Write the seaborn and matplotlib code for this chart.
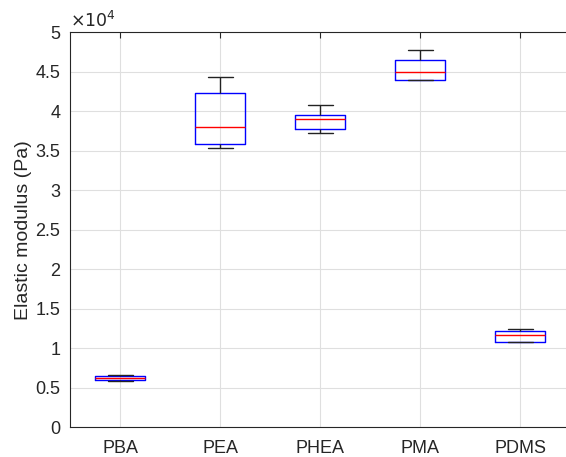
import pandas as pd
import matplotlib
matplotlib.use('Agg')
import matplotlib.pyplot as plt
import seaborn as sns

# five-number samples per polymer (Pa): min, q1, median, q3, max
materials = ['PBA', 'PEA', 'PHEA', 'PMA', 'PDMS']
pba = [5900, 5950, 6200, 6520, 6650]
pea = [35300, 35900, 38000, 42300, 44300]
phea = [37200, 37800, 39000, 39500, 40800]
pma = [43900, 44000, 45000, 46450, 47700]
pdms = [10760, 10760, 11700, 12200, 12400]

ytick_vals = [0, 5000, 10000, 15000, 20000, 25000, 30000, 35000, 40000, 45000, 50000]
ytick_labels = ['0', '0.5', '1', '1.5', '2', '2.5', '3', '3.5', '4', '4.5', '5']


def build_frame():
    rows = []
    for name, vals in zip(materials, [pba, pea, phea, pma, pdms]):
        for v in vals:
            rows.append({'material': name, 'modulus': v})
    return pd.DataFrame(rows)


def draw(df):
    sns.set_style('white')
    plt.rcParams['font.family'] = ['Liberation Sans', 'DejaVu Sans']
    text_col = '#262626'

    fig = plt.figure(figsize=(5.66, 4.57), dpi=100)
    ax = fig.add_axes([0.1237, 0.065, 0.8834, 0.8643])

    sns.boxplot(data=df, x='material', y='modulus', order=materials,
                width=0.5, whis=10, fill=False, linewidth=1.0, ax=ax,
                boxprops=dict(color='blue'),
                medianprops=dict(color='red'),
                whiskerprops=dict(color='#222222'),
                capprops=dict(color='#222222'),
                showfliers=False)

    ax.set_xlim(-0.5, 4.5)
    ax.set_ylim(0, 50000)
    ax.set_yticks(ytick_vals)
    ax.set_yticklabels(ytick_labels)
    ax.set_xlabel('')
    ax.set_ylabel('Elastic modulus (Pa)', fontsize=14, color=text_col)
    ax.yaxis.set_label_coords(-0.076, 0.5)
    ax.grid(True, color='#dfdfdf', linewidth=0.8)
    ax.set_axisbelow(True)
    ax.tick_params(direction='in', length=4, labelsize=13, colors=text_col,
                   top=True, width=0.8)
    ax.tick_params(axis='x', pad=9)
    ax.tick_params(axis='y', pad=7)
    for side in ['left', 'bottom', 'top']:
        ax.spines[side].set_color('#262626')
        ax.spines[side].set_linewidth(0.8)
    ax.spines['right'].set_visible(False)

    ax.text(0.0, 1.006, r'$\times10^{4}$', transform=ax.transAxes,
            fontsize=12.5, color=text_col, ha='left', va='bottom')

    fig.savefig('out.png', dpi=100)


if __name__ == '__main__':
    draw(build_frame())
